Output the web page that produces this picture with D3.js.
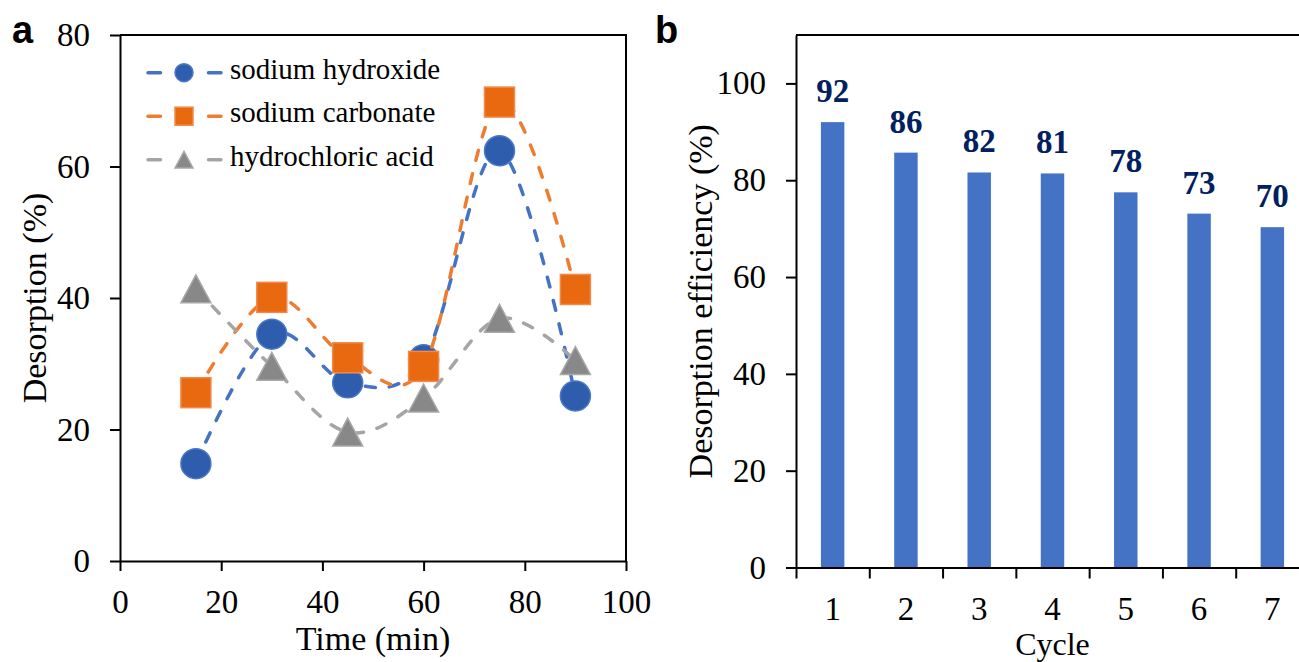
<!DOCTYPE html>
<html>
<head>
<meta charset="utf-8">
<script src="https://cdn.jsdelivr.net/npm/d3@7"></script>
<style>
  body { margin: 0; background: #fff; }
  svg { display: block; }
</style>
</head>
<body>
<svg width="1299" height="662"></svg>
<script>
// panel a data
const times = [15, 30, 45, 60, 75, 90];
const naohValues = [14.8, 34.5, 27.1, 30.6, 62.4, 25.1];
const na2co3Values = [25.6, 40.1, 30.9, 29.6, 69.8, 41.3];
const hclValues = [41.4, 29.6, 19.6, 24.8, 36.9, 30.5];
const seriesNames = ["sodium hydroxide", "sodium carbonate", "hydrochloric acid"];
const timeTicks = [0, 20, 40, 60, 80, 100];
const desorptionTicks = [0, 20, 40, 60, 80];

// panel b data
const cycles = ["1", "2", "3", "4", "5", "6", "7"];
const efficiencyValues = [92.0, 85.7, 81.6, 81.4, 77.5, 73.1, 70.3];
const efficiencyLabels = ["92", "86", "82", "81", "78", "73", "70"];
const efficiencyTicks = [0, 20, 40, 60, 80, 100];

const serif = '"Liberation Serif", "Times New Roman", serif';
const sans = '"Liberation Sans", Arial, sans-serif';
const svg = d3.select("svg");

const styleAxis = (g, size) => {
  g.select(".domain").attr("stroke", "#000").attr("stroke-width", 2);
  g.selectAll(".tick line").attr("stroke", "#000").attr("stroke-width", 2);
  g.selectAll(".tick text")
    .style("font-size", size + "px").style("fill", "#000")
    .style("font-family", serif);
};

const addText = (x, y, txt, size) => svg.append("text")
  .attr("x", x).attr("y", y)
  .style("font-family", serif).style("font-size", size + "px").style("fill", "#000")
  .text(txt);

//// Panel a
const xA = d3.scaleLinear().domain([0, 100]).range([120, 626]);
const yA = d3.scaleLinear().domain([0, 80]).range([561, 35]);

svg.append("g")
  .attr("transform", "translate(0," + yA(0) + ")")
  .call(d3.axisBottom(xA).tickValues(timeTicks).tickSize(10).tickSizeOuter(0).tickPadding(19))
  .call(g => styleAxis(g, 33));
svg.append("g")
  .attr("transform", "translate(" + xA(0) + ",0)")
  .call(d3.axisLeft(yA).tickValues(desorptionTicks).tickSize(10).tickSizeOuter(0).tickPadding(20))
  .call(g => styleAxis(g, 33));
// top and right frame
svg.append("path")
  .attr("d", "M" + xA(0) + "," + yA(80) + "H" + xA(100) + "V" + yA(0))
  .attr("fill", "none").attr("stroke", "#000").attr("stroke-width", 2);

const series = [
  { name: seriesNames[0], values: naohValues, line: "#4472C4", fill: "#2F5DAE", edge: "#4A78C8", shape: "circle" },
  { name: seriesNames[1], values: na2co3Values, line: "#ED7D31", fill: "#E8690F", edge: "#F08A4B", shape: "square" },
  { name: seriesNames[2], values: hclValues, line: "#A5A5A5", fill: "#888888", edge: "#A8A8A8", shape: "triangle" }
];

const drawMarker = (g, shape, s, fill, edge) => {
  if (shape === "circle") {
    g.append("circle").attr("r", s / 2);
  } else if (shape === "square") {
    g.append("rect").attr("x", -s / 2).attr("y", -s / 2).attr("width", s).attr("height", s);
  } else {
    const h = s * 0.93;
    g.append("path").attr("d", "M0," + (-h / 2) + "L" + (s / 2) + "," + (h / 2) + "L" + (-s / 2) + "," + (h / 2) + "Z");
  }
  g.selectAll("*").attr("fill", fill).attr("stroke", edge).attr("stroke-width", 1.5);
};

const line = d3.line()
  .x((d, i) => xA(times[i]))
  .y(d => yA(d))
  .curve(d3.curveCatmullRom.alpha(0));

series.forEach(s => {
  svg.append("path")
    .attr("d", line(s.values))
    .attr("fill", "none")
    .attr("stroke", s.line)
    .attr("stroke-width", 3.5)
    .attr("stroke-dasharray", "10 14")
    .attr("stroke-linecap", "round");
  s.values.forEach((v, i) => {
    const g = svg.append("g").attr("transform", "translate(" + xA(times[i]) + "," + yA(v) + ")");
    drawMarker(g, s.shape, 30, s.fill, s.edge);
  });
});

// legend
series.forEach((s, i) => {
  const cy = 72.7 + i * 43.5;
  svg.append("line")
    .attr("x1", 148).attr("x2", 221).attr("y1", cy).attr("y2", cy)
    .attr("stroke", s.line).attr("stroke-width", 3.5)
    .attr("stroke-linecap", "round")
    .attr("stroke-dasharray", "12.5 48 12.5 100");
  const g = svg.append("g").attr("transform", "translate(184," + cy + ")");
  drawMarker(g, s.shape, 18, s.fill, s.edge);
  addText(230, cy + 6, s.name, 29);
});

addText((xA(0) + xA(100)) / 2, 650, "Time (min)", 34).attr("text-anchor", "middle");
addText(0, 0, "Desorption (%)", 34)
  .attr("transform", "translate(46," + (yA(0) + yA(80)) / 2 + ") rotate(-90)")
  .attr("text-anchor", "middle");
addText(12, 43, "a", 38).style("font-family", sans).style("font-weight", "bold");

//// Panel b
const left = 796, right = 1309;
const xB = d3.scaleBand().domain(cycles).range([left, right]).paddingInner(0.68).paddingOuter(0.34);
const xEdge = d3.scaleLinear().domain([0, cycles.length]).range([left, right]);
const yB = d3.scaleLinear().domain([0, 110]).range([567.5, 35]);

svg.selectAll("rect.bar").data(efficiencyValues).enter().append("rect")
  .attr("class", "bar")
  .attr("x", (d, i) => xB(cycles[i]))
  .attr("width", xB.bandwidth())
  .attr("y", d => yB(d))
  .attr("height", d => yB(0) - yB(d))
  .attr("fill", "#4472C4");

svg.selectAll("text.val").data(efficiencyLabels).enter().append("text")
  .attr("class", "val")
  .attr("x", (d, i) => xB(cycles[i]) + xB.bandwidth() / 2)
  .attr("y", (d, i) => yB(efficiencyValues[i]) - 20)
  .attr("text-anchor", "middle")
  .style("font-family", serif).style("font-size", "33px").style("font-weight", "bold")
  .style("fill", "#002060")
  .text(d => d);

// category boundary ticks
svg.append("g")
  .attr("transform", "translate(0," + yB(0) + ")")
  .call(d3.axisBottom(xEdge).tickValues(d3.range(0, cycles.length + 1)).tickFormat("").tickSize(11).tickSizeOuter(0))
  .call(g => styleAxis(g, 33));
// category labels
svg.append("g")
  .attr("transform", "translate(0," + yB(0) + ")")
  .call(d3.axisBottom(xB).tickSize(0).tickPadding(29))
  .call(g => styleAxis(g, 33))
  .call(g => g.select(".domain").remove());
svg.append("g")
  .attr("transform", "translate(" + left + ",0)")
  .call(d3.axisLeft(yB).tickValues(efficiencyTicks).tickSize(10).tickSizeOuter(0).tickPadding(20))
  .call(g => styleAxis(g, 33));
svg.append("path")
  .attr("d", "M" + left + "," + yB(110) + "H" + right + "V" + yB(0))
  .attr("fill", "none").attr("stroke", "#000").attr("stroke-width", 2);

addText((left + right) / 2, 655, "Cycle", 32).attr("text-anchor", "middle");
addText(0, 0, "Desorption efficiency (%)", 34)
  .attr("transform", "translate(712," + (yB(0) + yB(110)) / 2 + ") rotate(-90)")
  .attr("text-anchor", "middle");
addText(655, 43, "b", 38).style("font-family", sans).style("font-weight", "bold");
</script>
</body>
</html>
